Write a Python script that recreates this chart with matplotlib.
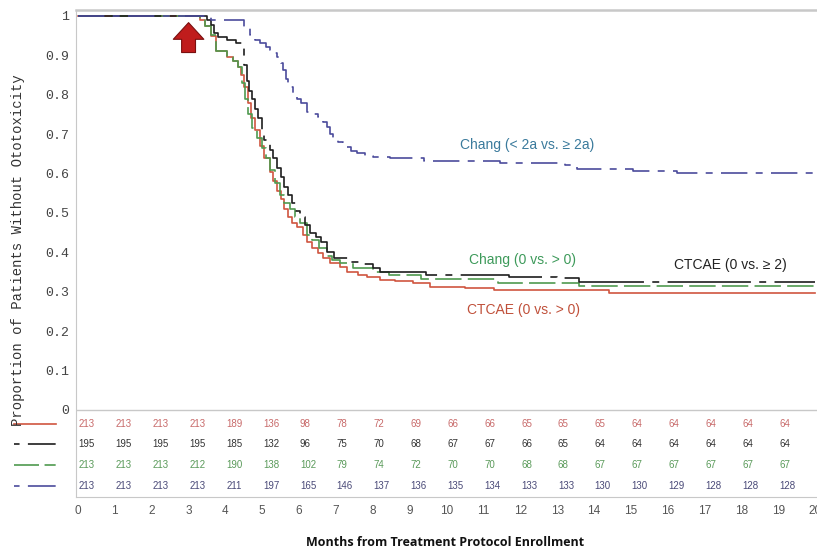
import matplotlib
matplotlib.use("Agg")
import matplotlib.pyplot as plt
import matplotlib.transforms as mtransforms

plt.rcParams['lines.scale_dashes'] = False

# Kaplan-Meier step points (months, proportion)
red_t = [0, 3.3, 3.45, 3.6, 3.75, 4.05, 4.2, 4.35, 4.42, 4.5, 4.6, 4.7, 4.8, 4.94, 5.05, 5.2, 5.3,
         5.4, 5.5, 5.6, 5.7, 5.8, 5.95, 6.1, 6.2, 6.35, 6.5, 6.65, 6.85, 7.1, 7.3, 7.6, 7.85, 8.2,
         8.6, 9.1, 9.55, 10.5, 11.3, 14.4, 20]
red_s = [1, 0.99, 0.975, 0.95, 0.91, 0.895, 0.885, 0.87, 0.85, 0.82, 0.78, 0.74, 0.71, 0.67, 0.64,
         0.605, 0.58, 0.555, 0.535, 0.51, 0.49, 0.475, 0.465, 0.445, 0.425, 0.41, 0.398, 0.385,
         0.373, 0.363, 0.35, 0.343, 0.338, 0.33, 0.326, 0.322, 0.313, 0.31, 0.305, 0.298, 0.298]

black_t = [0, 3.5, 3.6, 3.7, 3.8, 4.05, 4.3, 4.45, 4.5, 4.58, 4.65, 4.72, 4.8, 4.88, 4.98, 5.05,
           5.2, 5.3, 5.4, 5.5, 5.58, 5.7, 5.8, 5.92, 6.02, 6.15, 6.3, 6.45, 6.6, 6.75, 6.95, 7.4,
           7.7, 8.0, 8.2, 9.45, 11.7, 13.0, 13.6, 20]
black_s = [1, 0.99, 0.977, 0.957, 0.947, 0.94, 0.93, 0.92, 0.875, 0.835, 0.81, 0.79, 0.765, 0.74,
           0.705, 0.685, 0.66, 0.64, 0.615, 0.59, 0.565, 0.545, 0.525, 0.505, 0.49, 0.47, 0.45,
           0.44, 0.425, 0.4, 0.386, 0.376, 0.37, 0.36, 0.35, 0.343, 0.338, 0.334, 0.325, 0.325]

green_t = [0, 3.3, 3.45, 3.6, 3.75, 4.05, 4.2, 4.35, 4.45, 4.53, 4.62, 4.72, 4.85, 5.0, 5.1, 5.2,
           5.35, 5.48, 5.6, 5.75, 5.9, 6.02, 6.2, 6.35, 6.55, 6.75, 6.9, 7.1, 7.45, 8.0, 8.45,
           9.3, 11.4, 13.6, 20]
green_s = [1, 0.99, 0.975, 0.952, 0.91, 0.895, 0.885, 0.87, 0.83, 0.79, 0.75, 0.715, 0.69, 0.665,
           0.64, 0.61, 0.575, 0.545, 0.525, 0.51, 0.49, 0.475, 0.445, 0.43, 0.41, 0.39, 0.38,
           0.372, 0.36, 0.35, 0.342, 0.332, 0.322, 0.315, 0.315]

blue_t = [0, 3.6, 4.5, 4.67, 4.8, 4.94, 5.1, 5.2, 5.3, 5.4, 5.5, 5.56, 5.65, 5.7, 5.83, 5.95,
          6.05, 6.2, 6.35, 6.5, 6.65, 6.76, 6.85, 6.93, 7.05, 7.2, 7.4, 7.57, 7.8, 8.0, 8.47,
          9.4, 11.45, 13.2, 13.55, 15.06, 16.25, 20]
blue_s = [1, 0.99, 0.97, 0.952, 0.94, 0.93, 0.92, 0.914, 0.905, 0.896, 0.88, 0.863, 0.84, 0.82,
          0.80, 0.79, 0.78, 0.756, 0.75, 0.744, 0.73, 0.718, 0.70, 0.69, 0.68, 0.667, 0.658,
          0.652, 0.645, 0.642, 0.639, 0.631, 0.626, 0.622, 0.612, 0.607, 0.602, 0.600]

# numbers at risk, months 0..19
months = list(range(20))
risk_red = [213, 213, 213, 213, 189, 136, 98, 78, 72, 69, 66, 66, 65, 65, 65, 64, 64, 64, 64, 64]
risk_black = [195, 195, 195, 195, 185, 132, 96, 75, 70, 68, 67, 67, 66, 65, 64, 64, 64, 64, 64, 64]
risk_green = [213, 213, 213, 212, 190, 138, 102, 79, 74, 72, 70, 70, 68, 68, 67, 67, 67, 67, 67, 67]
risk_blue = [213, 213, 213, 213, 211, 197, 165, 146, 137, 136, 135, 134, 133, 133, 130, 130, 129, 128, 128, 128]

c_red = '#d0553f'
c_black = '#1e1e1e'
c_green = '#4f9a4f'
c_blue = '#4b4b9c'

fig = plt.figure(figsize=(8.17, 5.56), dpi=100)
ax = fig.add_axes([76/817, 59/556, 741/817, 487/556])

ax.step(red_t, red_s, where='post', color=c_red, lw=1.2)
ax.step(green_t, green_s, where='post', color=c_green, lw=1.2, linestyle=(0, (19, 4.5)))
ax.step(black_t, black_s, where='post', color=c_black, lw=1.2, linestyle=(0, (60, 6, 5, 6)))
ax.step(blue_t, blue_s, where='post', color=c_blue, lw=1.2, linestyle=(0, (19, 6, 5, 6)))

ax.set_xlim(-0.054, 20.05)
ax.set_ylim(-0.221, 1.015)

# frame
ax.spines['right'].set_visible(False)
for sp in ['top', 'left', 'bottom']:
    ax.spines[sp].set_color('#c8c8c8')
ax.spines['top'].set_linewidth(1.8)
ax.axhline(0, color='#c8c8c8', lw=1)

ax.set_yticks([i / 10 for i in range(11)])
ax.set_yticklabels(['0'] + ['0.%d' % i for i in range(1, 10)] + ['1'],
                   family='Liberation Mono', fontsize=9.5, color='#444')
ax.set_xticks(months + [20])
ax.set_xticklabels([str(m) for m in months + [20]], family='Liberation Sans', fontsize=8.5, color='#555')
ax.tick_params(length=0)
ax.tick_params(axis='y', pad=5)
ax.tick_params(axis='x', pad=6)

fig.text(18/817, 0.55, 'Proportion of Patients Without Ototoxicity', rotation=90,
         ha='center', va='center', family='Liberation Mono', fontsize=10, color='#333')
fig.text(0.545, 13/556, 'Months from Treatment Protocol Enrollment', ha='center', va='center',
         family='Open Sans', fontweight='bold', fontsize=9, color='#111')

# curve labels
lab_font = ['Liberation Sans', 'DejaVu Sans']
ax.text(12.18, 0.673, 'Chang (< 2a vs. \u2265 2a)', color='#3a7a9c', fontsize=10, family=lab_font, ha='center', va='center')
ax.text(12.05, 0.381, 'Chang (0 vs. > 0)', color='#3d9a5a', fontsize=10, family=lab_font, ha='center', va='center')
ax.text(17.7, 0.368, 'CTCAE (0 vs. \u2265 2)', color='#222222', fontsize=10, family=lab_font, ha='center', va='center')
ax.text(12.08, 0.254, 'CTCAE (0 vs. > 0)', color='#c0503a', fontsize=10, family=lab_font, ha='center', va='center')

# red arrow
ax.annotate('', xy=(3.0, 0.99), xytext=(3.0, 0.9),
            arrowprops=dict(arrowstyle='simple,head_width=1.1,head_length=0.6,tail_width=0.5',
                            mutation_scale=20, fc='#c01c1c', ec='#7a1010', lw=0.8))

# numbers at risk table
rows = [(risk_red, '#c86a6a', -0.0355, c_red, '-'),
        (risk_black, '#333333', -0.0863, c_black, (0, (4, 6, 20, 6))),
        (risk_green, '#5a9a5a', -0.1396, c_green, (0, (18, 4, 8, 4))),
        (risk_blue, '#4a4a78', -0.1929, c_blue, (0, (4, 6, 20, 6)))]
trans = mtransforms.blended_transform_factory(ax.transAxes, ax.transData)
for vals, tcol, yy, lcol, ls in rows:
    for m, v in zip(months, vals):
        ax.text(m + 0.02, yy, str(v), color=tcol, fontsize=7, family='Liberation Sans',
                ha='left', va='center')
    ax.plot([-0.084, -0.027], [yy, yy], transform=trans, color=lcol, lw=1.2,
            linestyle=ls, clip_on=False)

fig.savefig('out.png', dpi=100, facecolor='white')
